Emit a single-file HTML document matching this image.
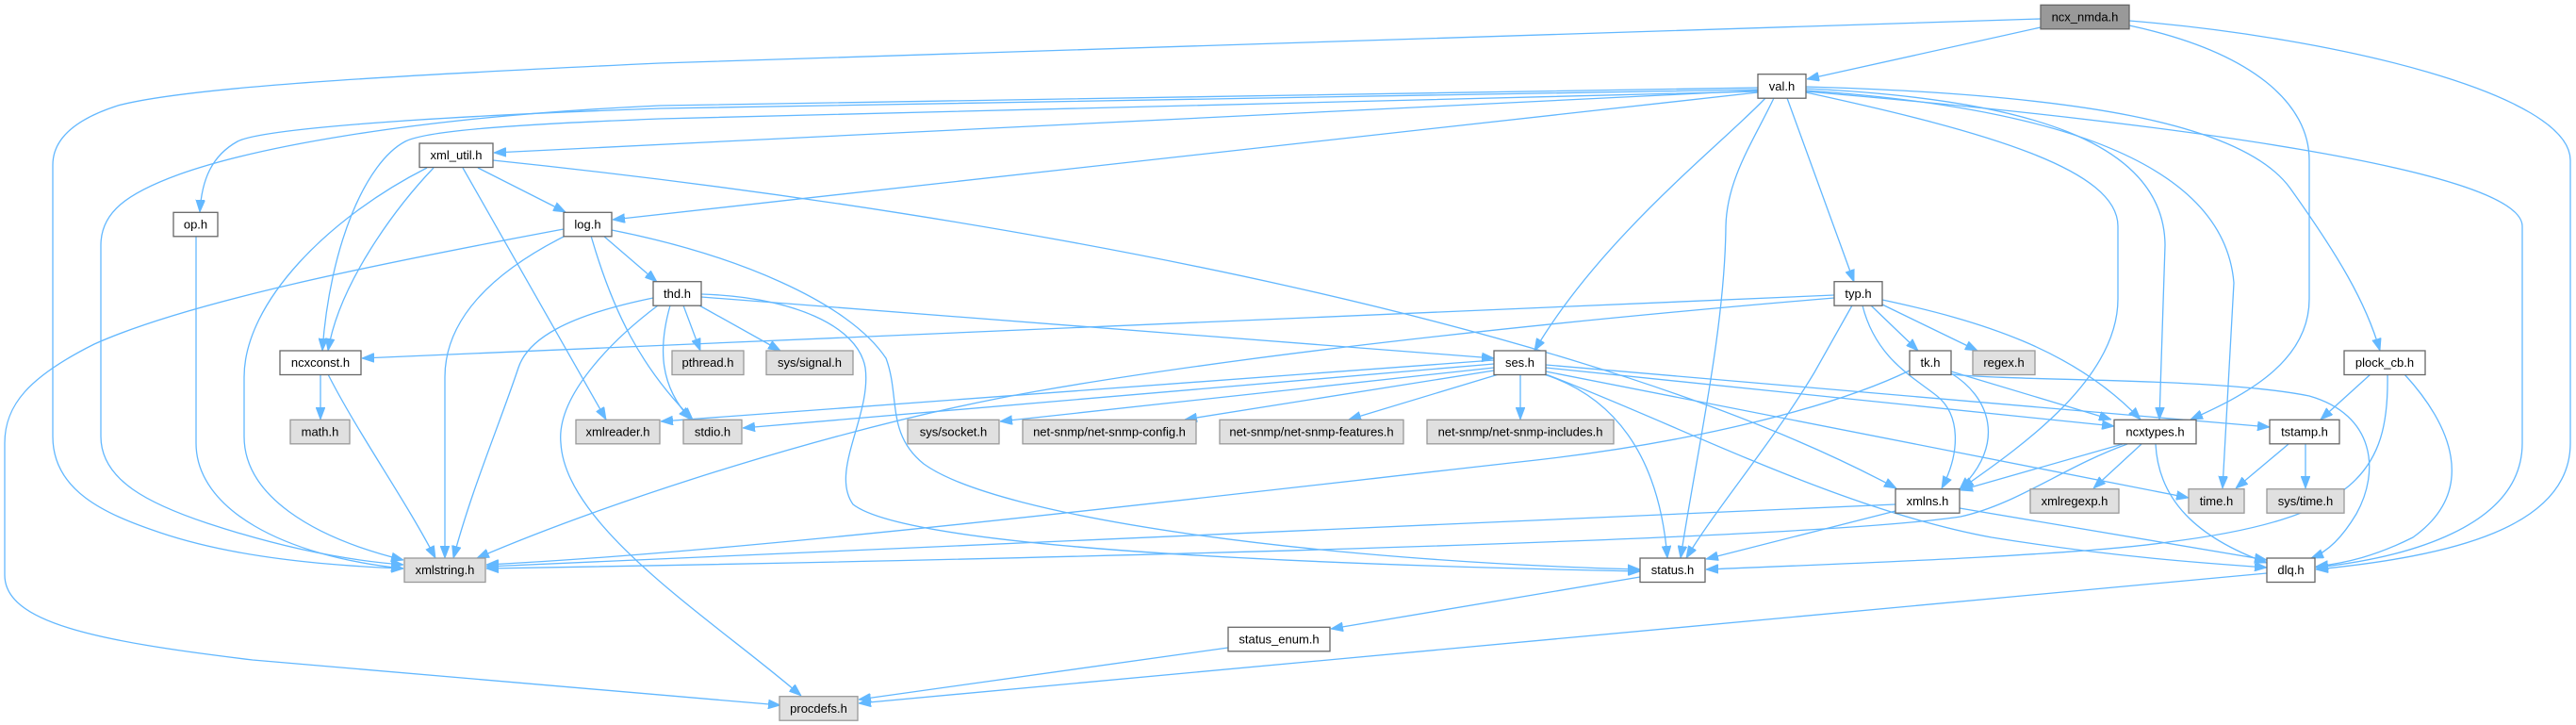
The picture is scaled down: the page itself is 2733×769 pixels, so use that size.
<!DOCTYPE html>
<html>
<head>
<meta charset="utf-8">
<style>
html,body{margin:0;padding:0;background:#fff;}
body{width:2733px;height:769px;overflow:hidden;}
svg{position:absolute;left:0;top:0;}
.e{fill:none;stroke:#63b8ff;stroke-width:1.3;marker-end:url(#ah);}
.nw{fill:#fff;stroke:#666;stroke-width:1.3;}
.ng{fill:#e0e0e0;stroke:#999;stroke-width:1.3;}
.nd{fill:#999;stroke:#666;stroke-width:1.3;}
text{font-family:"Liberation Sans",Arial,sans-serif;font-size:13px;fill:#000;text-anchor:middle;}
</style>
</head>
<body>
<svg width="2733" height="769" viewBox="0 0 2733 769" xmlns="http://www.w3.org/2000/svg">
<defs>
<marker id="ah" markerUnits="userSpaceOnUse" markerWidth="13" markerHeight="10" viewBox="0 0 12 9" refX="12" refY="4.5" orient="auto">
<path d="M0,0 L12,4.5 L0,9 z" fill="#63b8ff" stroke="#63b8ff" stroke-width="0.8"/>
</marker>
</defs>

<!-- edges -->
<path class="e" d="M2165,29 L1917,84"/>
<path class="e" d="M2165,20 L700,67 C420,80 200,92 125,112 C75,128 56,150 56,175 L56,463 C56,520 110,545 170,565 C250,592 350,600 428,603"/>
<path class="e" d="M2259,27 C2390,55 2450,110 2450,170 L2450,317 C2450,385 2380,420 2324,445"/>
<path class="e" d="M2259,22 C2480,40 2727,100 2727,170 L2727,470 C2727,560 2600,590 2457,604"/>
<path class="e" d="M1865,93 L700,112 C420,125 260,160 190,185 C135,205 107,225 107,260 L107,463 C107,510 160,535 220,555 C290,578 360,594 428,599"/>
<path class="e" d="M1865,95 L700,115 C420,125 275,138 252,150 C225,165 214,190 212,225"/>
<path class="e" d="M1865,97 L700,126 C520,133 450,140 430,150 C388,172 350,260 342,372"/>
<path class="e" d="M1865,96 L524,162"/>
<path class="e" d="M1865,98 L650,233"/>
<path class="e" d="M1873,104 C1830,150 1700,250 1628,372"/>
<path class="e" d="M1882,104 C1860,150 1832,190 1831,240 C1830,350 1800,480 1783,592"/>
<path class="e" d="M1896,104 L1967,299"/>
<path class="e" d="M1916,98 C2110,140 2247,180 2247,240 L2247,317 C2247,400 2150,470 2081,518"/>
<path class="e" d="M1916,94 C2150,105 2296,150 2297,260 L2291,445"/>
<path class="e" d="M1916,96 C2200,115 2360,180 2370,300 L2358,518"/>
<path class="e" d="M1916,92 C2200,100 2380,130 2430,200 C2480,270 2510,320 2525,372"/>
<path class="e" d="M1916,97 C2300,130 2676,180 2676,240 L2676,470 C2676,560 2550,592 2457,602"/>
<path class="e" d="M507,178 L600,225"/>
<path class="e" d="M460,178 C420,220 360,300 348,372"/>
<path class="e" d="M453,178 C350,230 259,320 259,400 L259,463 C259,525 330,570 428,594"/>
<path class="e" d="M491,178 L643,445"/>
<path class="e" d="M523,170 C1100,230 1700,350 2012,518"/>
<path class="e" d="M208,250 L208,470 C208,540 300,590 428,603"/>
<path class="e" d="M340,397 L340,445"/>
<path class="e" d="M348,397 C380,460 430,530 462,592"/>
<path class="e" d="M640,250 L697,299"/>
<path class="e" d="M600,250 C520,290 472,340 472,400 L472,592"/>
<path class="e" d="M627,250 C650,330 680,390 735,445"/>
<path class="e" d="M598,243 C400,280 200,320 100,365 C30,400 5,430 5,470 L5,610 C5,660 100,680 268,700 L828,748"/>
<path class="e" d="M649,244 C780,270 900,320 940,380 C955,420 940,460 980,492 C1060,550 1400,595 1740,604"/>
<path class="e" d="M725,324 L743,372"/>
<path class="e" d="M742,324 L828,372"/>
<path class="e" d="M711,324 C698,370 700,410 733,445"/>
<path class="e" d="M693,316 C600,335 560,360 550,390 C530,450 500,520 481,592"/>
<path class="e" d="M698,324 C650,360 590,420 595,470 C600,560 760,660 850,738"/>
<path class="e" d="M744,315 L1585,380"/>
<path class="e" d="M744,312 C840,315 910,345 918,390 C925,440 880,500 905,535 C950,570 1200,595 1740,606"/>
<path class="e" d="M1946,313 L384,380"/>
<path class="e" d="M1946,316 C1600,345 1300,380 1100,415 C900,450 650,530 506,592"/>
<path class="e" d="M1965,324 L1925,395 C1880,470 1820,540 1789,592"/>
<path class="e" d="M1985,324 L2035,372"/>
<path class="e" d="M1997,323 L2098,372"/>
<path class="e" d="M1997,318 C2100,340 2200,370 2271,445"/>
<path class="e" d="M1976,324 C1990,380 2030,400 2055,420 C2080,440 2080,480 2060,518"/>
<path class="e" d="M1638,397 C1710,420 1760,480 1769,592"/>
<path class="e" d="M1613,397 L1613,445"/>
<path class="e" d="M1590,397 L1431,445"/>
<path class="e" d="M1585,393 L1257,445"/>
<path class="e" d="M1585,390 L1061,447"/>
<path class="e" d="M1585,386 L788,454"/>
<path class="e" d="M1585,382 L701,447"/>
<path class="e" d="M1640,390 L2243,452"/>
<path class="e" d="M1640,387 L2408,453"/>
<path class="e" d="M1640,394 L2322,528"/>
<path class="e" d="M1640,397 C1780,450 1950,540 2113,570 C2250,592 2350,598 2405,602"/>
<path class="e" d="M2026,393 C1950,430 1800,470 1612,490 C1300,525 800,585 516,599"/>
<path class="e" d="M2070,394 L2240,445"/>
<path class="e" d="M2070,396 C2110,420 2130,470 2079,519"/>
<path class="e" d="M2070,397 C2150,405 2350,400 2450,420 C2520,440 2525,500 2500,545 C2485,570 2470,585 2452,592"/>
<path class="e" d="M2515,397 L2462,445"/>
<path class="e" d="M2533,397 C2535,500 2500,550 2300,575 C2200,590 1900,600 1810,604"/>
<path class="e" d="M2551,397 C2600,450 2630,520 2560,570 C2520,590 2490,597 2457,601"/>
<path class="e" d="M2252,471 L2080,520"/>
<path class="e" d="M2257,471 C2190,495 2140,535 2080,548 C1900,575 1000,595 516,603"/>
<path class="e" d="M2272,471 L2221,518"/>
<path class="e" d="M2287,471 C2290,530 2330,570 2405,597"/>
<path class="e" d="M2428,471 L2372,518"/>
<path class="e" d="M2446,471 L2446,518"/>
<path class="e" d="M2011,535 L516,601"/>
<path class="e" d="M2011,542 L1810,593"/>
<path class="e" d="M2079,539 L2405,594"/>
<path class="e" d="M1740,612 L1412,667"/>
<path class="e" d="M1303,687 L911,742"/>
<path class="e" d="M2405,608 L911,746"/>

<!-- nodes -->
<rect class="nd" x="2165" y="5.3" width="94" height="25.5"/><text x="2212" y="22.5">ncx_nmda.h</text>
<rect class="nw" x="1865" y="78.7" width="51" height="25.5"/><text x="1890.5" y="96">val.h</text>
<rect class="nw" x="445" y="152" width="78" height="25.5"/><text x="484" y="169.2">xml_util.h</text>
<rect class="nw" x="184" y="225.3" width="47" height="25.5"/><text x="207.5" y="242.5">op.h</text>
<rect class="nw" x="598" y="225.3" width="51" height="25.5"/><text x="623.5" y="242.5">log.h</text>
<rect class="nw" x="693" y="298.7" width="51" height="25.5"/><text x="718.5" y="316">thd.h</text>
<rect class="nw" x="1946" y="298.7" width="51" height="25.5"/><text x="1971.5" y="316">typ.h</text>
<rect class="nw" x="297" y="372" width="86" height="25.5"/><text x="340" y="389.2">ncxconst.h</text>
<rect class="ng" x="713" y="372" width="76" height="25.5"/><text x="751" y="389.2">pthread.h</text>
<rect class="ng" x="813" y="372" width="92" height="25.5"/><text x="859" y="389.2">sys/signal.h</text>
<rect class="nw" x="1585" y="372" width="55" height="25.5"/><text x="1612.5" y="389.2">ses.h</text>
<rect class="nw" x="2026" y="372" width="44" height="25.5"/><text x="2048" y="389.2">tk.h</text>
<rect class="ng" x="2093" y="372" width="66" height="25.5"/><text x="2126" y="389.2">regex.h</text>
<rect class="nw" x="2487" y="372" width="86" height="25.5"/><text x="2530" y="389.2">plock_cb.h</text>
<rect class="ng" x="308" y="445.3" width="63" height="25.5"/><text x="339.5" y="462.5">math.h</text>
<rect class="ng" x="611" y="445.3" width="89" height="25.5"/><text x="655.5" y="462.5">xmlreader.h</text>
<rect class="ng" x="725" y="445.3" width="62" height="25.5"/><text x="756" y="462.5">stdio.h</text>
<rect class="ng" x="963" y="445.3" width="97" height="25.5"/><text x="1011.5" y="462.5">sys/socket.h</text>
<rect class="ng" x="1085" y="445.3" width="184" height="25.5"/><text x="1177" y="462.5">net-snmp/net-snmp-config.h</text>
<rect class="ng" x="1294" y="445.3" width="195" height="25.5"/><text x="1391.5" y="462.5">net-snmp/net-snmp-features.h</text>
<rect class="ng" x="1514" y="445.3" width="198" height="25.5"/><text x="1613" y="462.5">net-snmp/net-snmp-includes.h</text>
<rect class="nw" x="2243" y="445.3" width="87" height="25.5"/><text x="2286.5" y="462.5">ncxtypes.h</text>
<rect class="nw" x="2408" y="445.3" width="74" height="25.5"/><text x="2445" y="462.5">tstamp.h</text>
<rect class="nw" x="2011" y="518.7" width="68" height="25.5"/><text x="2045" y="536">xmlns.h</text>
<rect class="ng" x="2154" y="518.7" width="94" height="25.5"/><text x="2201" y="536">xmlregexp.h</text>
<rect class="ng" x="2322" y="518.7" width="59" height="25.5"/><text x="2351.5" y="536">time.h</text>
<rect class="ng" x="2405" y="518.7" width="82" height="25.5"/><text x="2446" y="536">sys/time.h</text>
<rect class="ng" x="429" y="592" width="86" height="25.5"/><text x="472" y="609.2">xmlstring.h</text>
<rect class="nw" x="1740" y="592" width="69" height="25.5"/><text x="1774.5" y="609.2">status.h</text>
<rect class="nw" x="2405" y="592" width="51" height="25.5"/><text x="2430.5" y="609.2">dlq.h</text>
<rect class="nw" x="1303" y="665.3" width="108" height="25.5"/><text x="1357" y="682.5">status_enum.h</text>
<rect class="ng" x="827" y="738.7" width="83" height="25.5"/><text x="868.5" y="756">procdefs.h</text>
</svg>
</body>
</html>
